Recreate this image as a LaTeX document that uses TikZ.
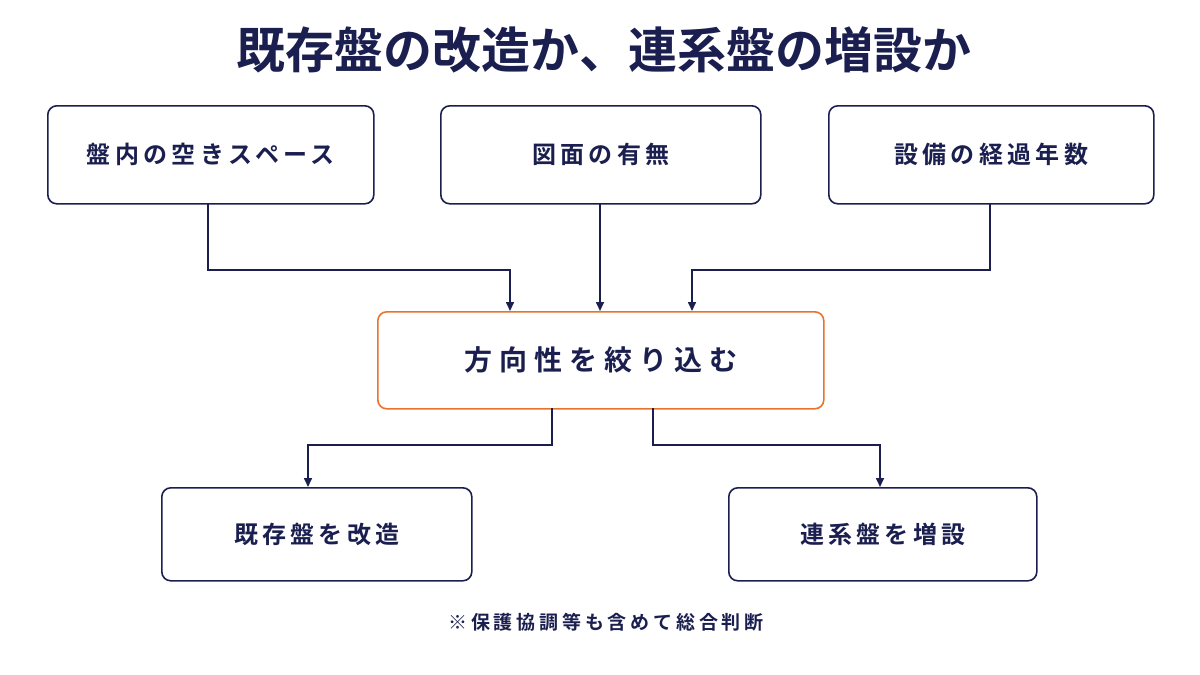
\documentclass[tikz,border=0pt]{standalone}
\usepackage{fontspec}
\setmainfont{Noto Sans CJK JP}
\newfontfamily\jpb{Noto Sans CJK JP Bold}
\newfontfamily\jpbA[LetterSpace=18]{Noto Sans CJK JP Bold}
\newfontfamily\jpbB[LetterSpace=25]{Noto Sans CJK JP Bold}
\newfontfamily\jpbC[LetterSpace=20]{Noto Sans CJK JP Bold}
\usetikzlibrary{arrows.meta}
\definecolor{navy}{HTML}{1B1F4F}
\definecolor{org}{HTML}{EA722B}
\begin{document}
\begin{tikzpicture}[x=1pt,y=-1pt,
  box/.style={draw=navy,line width=1.6pt,rounded corners=9pt,fill=white,text=navy,font=\jpbA\fontsize{24}{28}\selectfont,anchor=north west,inner sep=0pt},
  con/.style={draw=navy,line width=1.6pt,-{Triangle[length=9pt,width=8pt]}}]
\useasboundingbox (0,0) rectangle (1200,675);
\node[text=navy,font=\jpb\fontsize{49}{56}\selectfont] (title) at (604,50) {既存盤の改造か、連系盤の増設か};
\node[box,minimum width=326pt,minimum height=98pt] (a) at (47,105) {盤内の空きスペース};
\node[box,minimum width=320pt,minimum height=98pt] (b) at (440,105) {図面の有無};
\node[box,minimum width=325pt,minimum height=98pt] (c) at (828,105) {設備の経過年数};
\node[box,draw=org,minimum width=446pt,minimum height=97pt,font=\jpbB\fontsize{28}{32}\selectfont] (m) at (377,311) {方向性を絞り込む};
\node[box,minimum width=310pt,minimum height=93pt] (d) at (161,487) {既存盤を改造};
\node[box,minimum width=308pt,minimum height=93pt] (e) at (728,487) {連系盤を増設};
\node[text=navy,font=\jpbC\fontsize{19}{22}\selectfont] (note) at (606,622) {※保護協調等も含めて総合判断};
\coordinate (a1) at (208,203); \coordinate (m1) at (510,311);
\coordinate (c1) at (990,203); \coordinate (m3) at (692,311);
\coordinate (b1) at (600,203); \coordinate (m2) at (600,311);
\coordinate (m4) at (552,408); \coordinate (d1) at (308,487);
\coordinate (m5) at (653,408); \coordinate (e1) at (880,487);
\draw[con] (a1) -- (a1 |- 0,270) -| (m1);
\draw[con] (b1) -- (m2);
\draw[con] (c1) -- (c1 |- 0,270) -| (m3);
\draw[con] (m4) -- (m4 |- 0,445) -| (d1);
\draw[con] (m5) -- (m5 |- 0,445) -| (e1);
\end{tikzpicture}
\end{document}
